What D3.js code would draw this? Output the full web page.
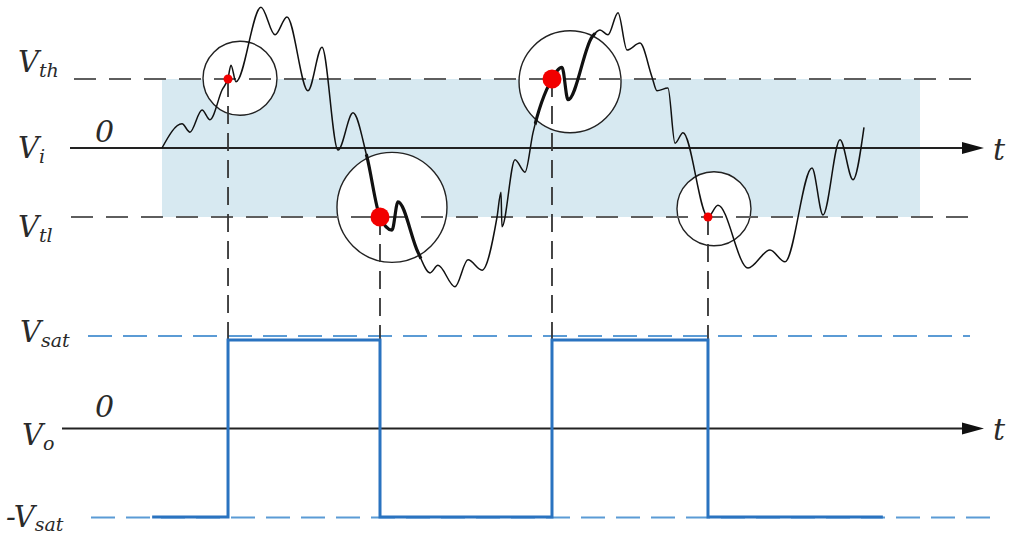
<!DOCTYPE html>
<html>
<head>
<meta charset="utf-8">
<script src="https://cdn.jsdelivr.net/npm/d3@7"></script>
<style>
  html, body { margin: 0; padding: 0; background: #fff; }
  svg { display: block; }
</style>
</head>
<body>
<svg id="chart" width="1014" height="537"></svg>
<script>
// ---------------- DATA ----------------
// input signal (time units, volts normalised so Vth = 1, Vtl = -1)
const inT = [0, 2.64, 3.69, 5.28, 6.33, 7.92, 8.71, 9.10, 9.76, 13.06, 14.91, 16.49, 19.26, 21.11, 23.22,
  25.20, 27.04, 28.76, 30.34, 31.13, 33.77, 35.36, 36.41, 38.65, 40.37, 42.22, 44.20, 44.72, 44.85, 46.57,
  47.89, 48.94, 51.45, 52.77, 53.56, 56.73, 57.78, 58.84, 60.16, 61.35, 63.06, 64.64, 65.30, 66.75, 67.68,
  68.73, 72.03, 73.35, 77.31, 80.21, 82.19, 85.75, 87.20, 89.45, 91.16, 92.61];
const inV = [0, 0.35, 0.23, 0.55, 0.41, 0.84, 1.01, 1.20, 0.96, 2.04, 1.64, 1.90, 0.83, 1.46, -0.03,
  0.51, -0.13, -1.00, -1.19, -0.78, -1.51, -1.81, -1.70, -2.01, -1.62, -1.77, -1.00, -0.64, -1.14, -0.17,
  -0.35, 0.22, 1.00, 1.17, 0.70, 1.61, 1.71, 1.64, 1.96, 1.42, 1.52, 1.03, 0.83, 0.87, 0.07,
  0.22, -1.00, -0.83, -1.74, -1.48, -1.65, -0.29, -0.97, 0.12, -0.46, 0.30];

// threshold crossings (switching events)
const crossT = [8.71, 28.76, 51.45, 72.03];
const crossV = [1, -1, 1, -1];
const dotSize = ["small", "big", "big", "small"];

// magnifier circles around crossings
const circT = [10.29, 30.34, 53.83, 72.82];
const circV = [1.01, -0.86, 0.96, -0.88];
const circR = [37, 55, 51, 37];
const circThick = [false, true, true, false];

// output square wave
const outT = [-1.3, 8.71, 28.76, 51.45, 72.03, 95.1];
const outV = [-1, 1, -1, 1, -1, -1];

// reference levels
const inLevels = [1, -1];          // Vth, Vtl
const outLevels = [1.045, -1.005]; // Vsat, -Vsat guides

// labels
const inLabels = [{m: "V", s: "th", v: 1}, {m: "V", s: "i", v: 0}, {m: "V", s: "tl", v: -1}];
const outLabels = [{m: "V", s: "sat", v: 1}, {m: "V", s: "o", v: 0}, {m: "-V", s: "sat", v: -1}];

// ---------------- SCALES ----------------
const svg = d3.select("#chart");
const x = d3.scaleLinear().domain([0, 100]).range([162, 920]);
const yIn = d3.scaleLinear().domain([-1, 1]).range([217, 79]);
const yOut = d3.scaleLinear().domain([-1, 1]).range([517, 340]);

const textCol = "#2a2a2a";
const font = "'DejaVu Serif', serif";

// ---------------- TOP PANEL ----------------
svg.append("rect")
  .attr("x", x(0)).attr("y", yIn(1))
  .attr("width", x(100) - x(0)).attr("height", yIn(-1) - yIn(1))
  .attr("fill", "#d7e9f1");

const circG = svg.append("g");
circG.selectAll("circle").data(circT).join("circle")
  .attr("cx", d => x(d)).attr("cy", (d, i) => yIn(circV[i]))
  .attr("r", (d, i) => circR[i])
  .attr("fill", "#fff").attr("stroke", "#222").attr("stroke-width", 1.4);

svg.selectAll("line.th").data(inLevels).join("line")
  .attr("class", "th")
  .attr("x1", (d, i) => i === 0 ? 74 : 71).attr("x2", 975)
  .attr("y1", d => yIn(d)).attr("y2", d => yIn(d))
  .attr("stroke", "#5e5e5e").attr("stroke-width", 2.2).attr("stroke-dasharray", "22,13");

function axisArrow(x0, y0) {
  svg.append("line").attr("x1", x0).attr("x2", 966).attr("y1", y0).attr("y2", y0)
    .attr("stroke", "#222").attr("stroke-width", 1.8);
  svg.append("path").attr("d", d3.line()([[962, y0 - 6], [984, y0], [962, y0 + 6]]) + "Z")
    .attr("fill", "#111");
}
axisArrow(70, yIn(0));

const sig = inT.map((t, i) => [x(t), yIn(inV[i])]);
const lineGen = d3.line().curve(d3.curveMonotoneX);
svg.append("path").attr("d", lineGen(sig))
  .attr("fill", "none").attr("stroke", "#111").attr("stroke-width", 1.5);

const defs = svg.append("defs");
circT.forEach((t, i) => {
  if (!circThick[i]) return;
  defs.append("clipPath").attr("id", "clip" + i)
    .append("circle").attr("cx", x(t)).attr("cy", yIn(circV[i])).attr("r", circR[i] + 4);
  svg.append("path").attr("d", lineGen(sig))
    .attr("clip-path", `url(#clip${i})`)
    .attr("fill", "none").attr("stroke", "#111").attr("stroke-width", 3.2);
});

// ---------------- BOTTOM PANEL ----------------
svg.selectAll("line.sat").data(outLevels).join("line")
  .attr("class", "sat")
  .attr("x1", (d, i) => i === 0 ? 88 : 91).attr("x2", (d, i) => i === 0 ? 970 : 990)
  .attr("y1", d => yOut(d)).attr("y2", d => yOut(d))
  .attr("stroke", "#5b9bd5").attr("stroke-width", 2).attr("stroke-dasharray", "24,11");

axisArrow(62, yOut(0));

svg.selectAll("line.proj").data(crossT).join("line")
  .attr("class", "proj")
  .attr("x1", d => x(d)).attr("x2", d => x(d))
  .attr("y1", (d, i) => yIn(crossV[i])).attr("y2", yOut(-1))
  .attr("stroke", "#333").attr("stroke-width", 1.8).attr("stroke-dasharray", "18,9");

const outLine = d3.line().curve(d3.curveStepAfter);
svg.append("path").attr("d", outLine(outT.map((t, i) => [x(t), yOut(outV[i])])))
  .attr("fill", "none").attr("stroke", "#2a73c0").attr("stroke-width", 3);

svg.selectAll("circle.dot").data(crossT).join("circle")
  .attr("class", "dot")
  .attr("cx", d => x(d)).attr("cy", (d, i) => yIn(crossV[i]))
  .attr("r", (d, i) => dotSize[i] === "big" ? 9.5 : 4.5)
  .attr("fill", "#f20000");

// ---------------- LABELS ----------------
function label(xp, yp, main, sub, dy) {
  const t = svg.append("text").attr("x", xp).attr("y", yp)
    .attr("font-family", font).attr("font-style", "italic")
    .attr("font-size", 29).attr("fill", textCol);
  t.append("tspan").text(main);
  t.append("tspan").attr("font-size", 19).attr("dy", dy).text(sub);
}
const inBase = [72, 158, 237];
inLabels.forEach((d, i) => label(18, inBase[i], d.m, d.s, 5));
const outBase = [342, 445, 527];
const outX = [20, 22, 6];
const outDy = [5, 5, 4];
outLabels.forEach((d, i) => label(outX[i], outBase[i], d.m, d.s, outDy[i]));

[[95, 142], [95, 417]].forEach(p => svg.append("text")
  .attr("x", p[0]).attr("y", p[1])
  .attr("font-family", font).attr("font-style", "italic").attr("font-size", 30)
  .attr("fill", textCol).text("0"));

[[993, 160], [993, 440]].forEach(p => svg.append("text")
  .attr("x", p[0]).attr("y", p[1])
  .attr("font-family", font).attr("font-style", "italic").attr("font-size", 30)
  .attr("fill", textCol).text("t"));
</script>
</body>
</html>
